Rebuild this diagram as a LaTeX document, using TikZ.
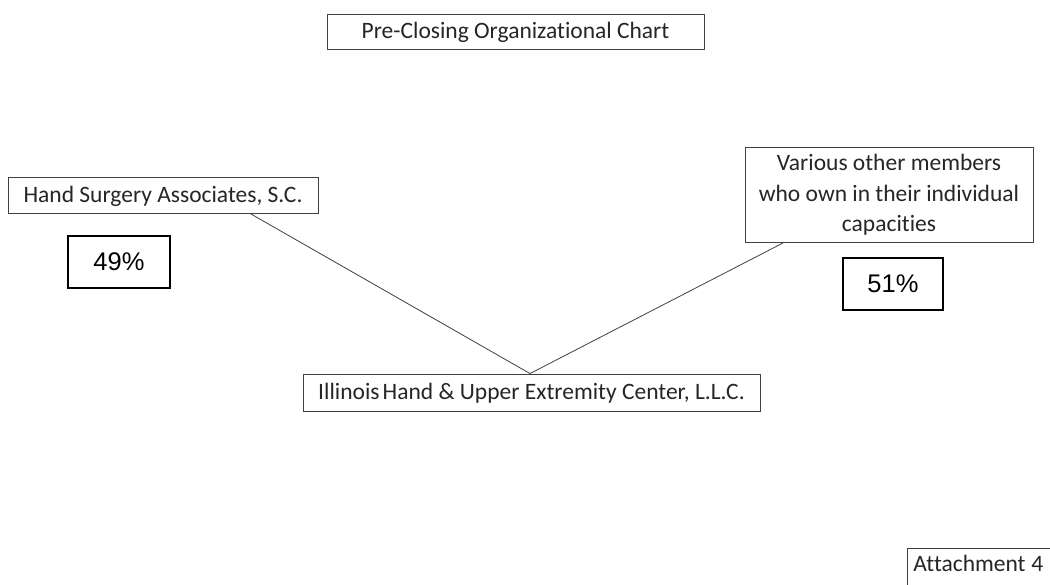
\documentclass[tikz,border=0pt]{standalone}
\usepackage{fontspec}
\setmainfont[Ligatures=NoCommon]{Carlito}
\newfontfamily\arialfont{Liberation Sans}
\usetikzlibrary{calc}
\definecolor{txt}{HTML}{262626}
\definecolor{edge}{HTML}{404040}
\tikzset{
  lbox/.style={draw=edge, line width=0.9pt, text=txt, inner sep=0pt, font=\fontsize{23.5}{30.5}\selectfont, align=center},
  pbox/.style={draw=black, line width=1.5pt, text=black, inner sep=0pt, font=\arialfont\fontsize{25.5}{28}\selectfont},
  link/.style={draw=edge, line width=0.8pt}
}
\begin{document}
\begin{tikzpicture}[x=1pt,y=-1pt]
\useasboundingbox[fill=white] (0,0) rectangle (1050,584);
\node[lbox, minimum width=377pt, minimum height=35pt, text depth=0.3em] (title) at (515.5,31.5) {Pre-Closing Organizational Chart};
\node[lbox, minimum width=310pt, minimum height=36pt, text depth=0.2em] (hs) at (163,195) {Hand Surgery Associates, S.C.};
\node[pbox, minimum width=102pt, minimum height=52pt] (p49) at (119,262) {49\%};
\node[lbox, minimum width=288pt, minimum height=95pt] (vo) at (889,195) {Various other members\\who own in their individual\\capacities};
\node[pbox, minimum width=100pt, minimum height=52pt] (p51) at (893,284) {51\%};
\node[lbox, minimum width=457pt, minimum height=37pt, text depth=0.2em] (ih) at (531.5,392.5) {Illinois\hspace{0.13em}Hand \& Upper Extremity Center, L.L.C.};
\node[lbox, anchor=north west, minimum width=175pt, minimum height=50pt, text width=165pt, align=left, inner xsep=6pt, text depth=20pt] (att) at (907,548) {Attachment\hspace{0.25em}4};
\draw[link] ([xshift=87pt]hs.south) -- ([xshift=-1.5pt]ih.north);
\draw[link] ([xshift=-106pt]vo.south) -- ([xshift=-1.5pt]ih.north);
\end{tikzpicture}
\end{document}
